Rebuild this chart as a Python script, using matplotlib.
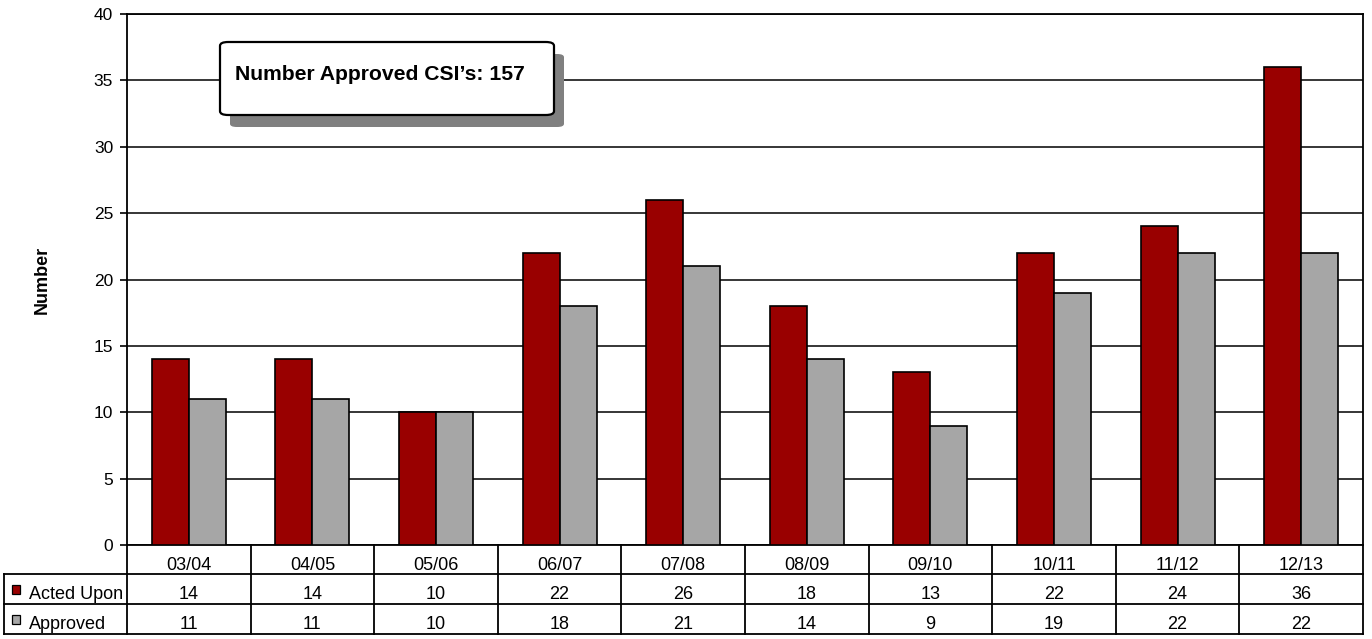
import matplotlib
matplotlib.use("Agg")
import matplotlib.pyplot as plt
from matplotlib.patches import FancyBboxPatch, Rectangle
from matplotlib.lines import Line2D

plt.rcParams['font.family'] = ['Liberation Sans', 'DejaVu Sans']

categories = ["03/04", "04/05", "05/06", "06/07", "07/08", "08/09", "09/10", "10/11", "11/12", "12/13"]
acted_upon = [14, 14, 10, 22, 26, 18, 13, 22, 24, 36]
approved = [11, 11, 10, 18, 21, 14, 9, 19, 22, 22]
series_names = ["Acted Upon", "Approved"]
colors = ["#990000", "#A6A6A6"]
box_text = "Number Approved CSI\u2019s: 157"

W, H = 1372, 639
fig = plt.figure(figsize=(W / 100, H / 100), dpi=100)
L, R, T, B = 127, 1363, 14, 545
ax = fig.add_axes([L / W, 1 - B / H, (R - L) / W, (B - T) / H])

n = len(categories)
x = list(range(n))
bw = 0.3
ax.bar([i - bw / 2 for i in x], acted_upon, width=bw, color=colors[0], edgecolor="black", linewidth=1.2, zorder=3)
ax.bar([i + bw / 2 for i in x], approved, width=bw, color=colors[1], edgecolor="black", linewidth=1.2, zorder=3)

ax.set_xlim(-0.5, n - 0.5)
ax.set_ylim(0, 40)
ax.set_yticks(range(0, 41, 5))
ax.tick_params(axis='y', labelsize=12.5, length=5, width=1.2, direction='out', pad=5)
ax.set_xticks([])
ax.yaxis.grid(True, color="black", linewidth=1.1, zorder=0)
ax.set_axisbelow(True)
for s in ax.spines.values():
    s.set_linewidth(1.3)
    s.set_color("black")
ax.set_ylabel("Number", fontsize=13, fontweight="bold", labelpad=31)


def fx(px):
    return px / W


def fy(py):
    return 1 - py / H


# Annotation box with shadow
bx0, by0, bx1, by1 = 220, 42, 554, 115
shadow = FancyBboxPatch((fx(bx0 + 10), fy(by1 + 12)), fx(bx1 - bx0), (by1 - by0) / H,
                        boxstyle="round,pad=0,rounding_size=0.005", transform=fig.transFigure,
                        facecolor="#808080", edgecolor="none", zorder=5)
box = FancyBboxPatch((fx(bx0), fy(by1)), fx(bx1 - bx0), (by1 - by0) / H,
                     boxstyle="round,pad=0,rounding_size=0.006", transform=fig.transFigure,
                     facecolor="white", edgecolor="black", linewidth=1.6, zorder=6)
fig.patches.extend([shadow, box])
fig.text(fx(235), fy(80), box_text, fontsize=15.2, fontweight="bold", va="baseline", ha="left", zorder=7)

# Data table below
rows_y = [545, 574, 604, 634]
tx0 = 4
lw = 1.3


def hline(y, x0, x1):
    fig.add_artist(Line2D([fx(x0), fx(x1)], [fy(y), fy(y)], color="black", linewidth=lw, transform=fig.transFigure))


def vline(xp, y0, y1):
    fig.add_artist(Line2D([fx(xp), fx(xp)], [fy(y0), fy(y1)], color="black", linewidth=lw, transform=fig.transFigure))


hline(rows_y[1], tx0, R)
hline(rows_y[2], tx0, R)
hline(rows_y[3], tx0, R)
vline(tx0, rows_y[1], rows_y[3])
cw = (R - L) / n
for i in range(n + 1):
    vline(L + i * cw, rows_y[0], rows_y[3])

baselines = [570, 599, 629]
fs = 13
for i, c in enumerate(categories):
    cx = L + (i + 0.5) * cw
    fig.text(fx(cx), fy(baselines[0]), c, fontsize=fs, ha="center", va="baseline")
    fig.text(fx(cx), fy(baselines[1]), str(acted_upon[i]), fontsize=fs, ha="center", va="baseline")
    fig.text(fx(cx), fy(baselines[2]), str(approved[i]), fontsize=fs, ha="center", va="baseline")

sq_tops = [585, 615]
for k, (name, col) in enumerate(zip(series_names, colors)):
    fig.patches.append(Rectangle((fx(12), fy(sq_tops[k] + 9)), fx(8), 9 / H, transform=fig.transFigure,
                                 facecolor=col, edgecolor="black", linewidth=0.9))
    fig.text(fx(29), fy(baselines[k + 1]), name, fontsize=fs, ha="left", va="baseline")

fig.savefig("out.png", dpi=100, facecolor="white")
